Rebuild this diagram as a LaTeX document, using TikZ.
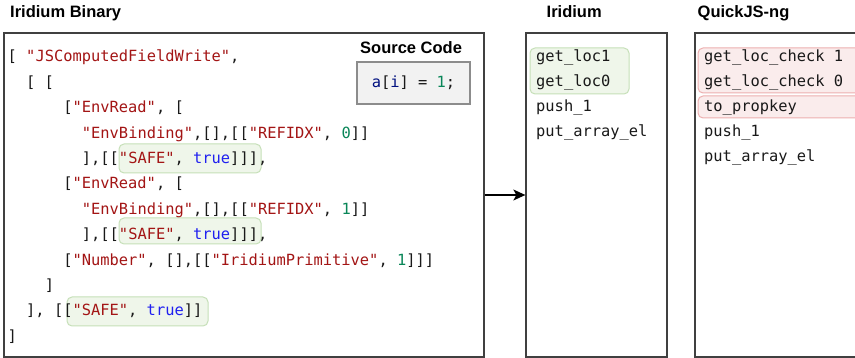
\documentclass[tikz,border=0pt]{standalone}
\usepackage{fontspec}
\setmonofont{DejaVu Sans Mono}
\newfontfamily\titlefont{Liberation Sans}
\usepackage{xcolor}
\usetikzlibrary{arrows.meta}

\definecolor{strred}{HTML}{A31515}
\definecolor{boolblue}{HTML}{2020F0}
\definecolor{numgreen}{HTML}{098658}
\definecolor{varblue}{HTML}{001080}
\definecolor{okfill}{HTML}{EFF6EA}
\definecolor{okline}{HTML}{C6E0B8}
\definecolor{badfill}{HTML}{FAECEC}
\definecolor{badline}{HTML}{EDB0B0}

\newcommand{\jstr}[1]{\textcolor{strred}{#1}}
\newcommand{\jbool}[1]{\textcolor{boolblue}{#1}}
\newcommand{\jnum}[1]{\textcolor{numgreen}{#1}}
\newcommand{\jvar}[1]{\textcolor{varblue}{#1}}

\begin{document}
\begin{tikzpicture}[
  x=1pt, y=-1pt,
  every node/.style={inner sep=0pt},
  panel/.style={draw=black!75, line width=1.3pt, fill=white},
  title/.style={anchor=base west, font=\titlefont\bfseries\fontsize{16.5}{19}\selectfont},
  code/.style={anchor=base west, text=black!90, font=\ttfamily\fontsize{15.4}{18}\selectfont},
  safe/.style={draw=okline, fill=okfill, line width=1pt, rounded corners=5pt},
  unsafe/.style={draw=badline, fill=badfill, line width=1pt, rounded corners=5pt},
]
\tikzset{>={Stealth[length=12pt, width=11pt, inset=3pt]}}
\useasboundingbox (0,0) rectangle (855,358);
\clip (0,0) rectangle (855,358);

% panels and their titles
\node (bin)  [panel, minimum width=480pt, minimum height=324pt] at (244,195) {};
\node (irid) [panel, minimum width=141pt, minimum height=324pt] at (596.5,195) {};
\node (qjs)  [panel, minimum width=180pt, minimum height=324pt] at (785,195) {};
\node (binT)  [title] at (10,18)    {Iridium Binary};
\node (iridT) [title] at (546.5,18) {Iridium};
\node (qjsT)  [title] at (697.5,18) {QuickJS-ng};

\draw[->, line width=1.3pt] (bin) -- (irid);

% source snippet
\node (srcT) [title] at (360,53.3) {Source Code};
\node (src) [draw=black!45, fill=black!5, line width=1.2pt, minimum width=113pt,
  minimum height=42pt, font=\ttfamily\fontsize{15.4}{18}\selectfont, text=black!90]
  at (413.5,83) {\jvar{a}[\jvar{i}] = \jnum{1};};

% safe flags
\draw[safe] (119,144) rectangle (261,173);
\draw[safe] (119,218) rectangle (261,244);
\draw[safe] (67,297) rectangle (208,326);

% binary encoding
\node (L1)  [code] at (7.5,62)    {[ \jstr{"JSComputedFieldWrite"},};
\node (L2)  [code] at (26,87.4)   {[ [};
\node (L3)  [code] at (63.1,112.8) {[\jstr{"EnvRead"}, [};
\node (L4)  [code] at (81.7,138.2) {\jstr{"EnvBinding"},[],[[\jstr{"REFIDX"}, \jnum{0}]]};
\node (L5)  [code] at (81.7,163.6) {],[[\jstr{"SAFE"}, \jbool{true}]]],};
\node (L6)  [code] at (63.1,189)   {[\jstr{"EnvRead"}, [};
\node (L7)  [code] at (81.7,214.4) {\jstr{"EnvBinding"},[],[[\jstr{"REFIDX"}, \jnum{1}]]};
\node (L8)  [code] at (81.7,239.8) {],[[\jstr{"SAFE"}, \jbool{true}]]],};
\node (L9)  [code] at (63.1,265.2) {[\jstr{"Number"}, [],[[\jstr{"IridiumPrimitive"}, \jnum{1}]]]};
\node (L10) [code] at (44.6,290.6) {]};
\node (L11) [code] at (26,316)     {], [[\jstr{"SAFE"}, \jbool{true}]]};
\node (L12) [code] at (7.5,341.4)  {]};

% Iridium bytecode
\draw[safe] (530,48) rectangle (629,94);
\node (I1) [code] at (536,61.5)  {get\_loc1};
\node (I2) [code] at (536,86.5)  {get\_loc0};
\node (I3) [code] at (536,111.5) {push\_1};
\node (I4) [code] at (536,136.5) {put\_array\_el};

% QuickJS-ng bytecode
\draw[unsafe] (698,48) rectangle (862,93);
\draw[unsafe] (698,96) rectangle (862,118);
\node (Q1) [code] at (704,61.5)  {get\_loc\_check 1};
\node (Q2) [code] at (704,86.5)  {get\_loc\_check 0};
\node (Q3) [code] at (704,111.5) {to\_propkey};
\node (Q4) [code] at (704,136.5) {push\_1};
\node (Q5) [code] at (704,161.5) {put\_array\_el};
\end{tikzpicture}
\end{document}
